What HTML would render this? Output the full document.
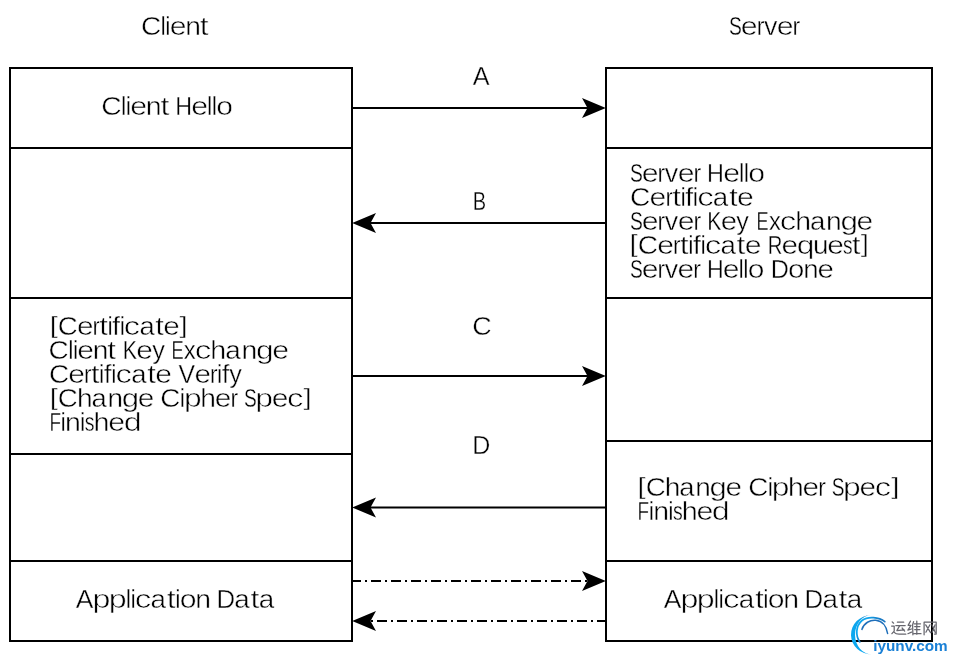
<!DOCTYPE html><html><head><meta charset="utf-8"><style>html,body{margin:0;padding:0;background:#fff;width:954px;height:662px;overflow:hidden}svg{display:block;will-change:transform}text{font-family:"Liberation Sans",sans-serif;font-size:25.3px;fill:#000;stroke:#fff;stroke-width:0.35px}</style></head><body>
<svg width="954" height="662" viewBox="0 0 954 662">

<g fill="none" stroke="#000" stroke-width="2" shape-rendering="crispEdges">
<rect x="10" y="68" width="342" height="573"/>
<rect x="606" y="68" width="326" height="573"/>
<line x1="10" y1="148" x2="352" y2="148"/>
<line x1="10" y1="298" x2="352" y2="298"/>
<line x1="10" y1="454" x2="352" y2="454"/>
<line x1="10" y1="561" x2="352" y2="561"/>
<line x1="606" y1="148" x2="932" y2="148"/>
<line x1="606" y1="298" x2="932" y2="298"/>
<line x1="606" y1="441" x2="932" y2="441"/>
<line x1="606" y1="561" x2="932" y2="561"/>
<line x1="353" y1="108" x2="590" y2="108"/>
<line x1="605" y1="223" x2="368" y2="223"/>
<line x1="353" y1="376" x2="590" y2="376"/>
</g>
<line x1="605" y1="507.5" x2="368" y2="507.5" stroke="#000" stroke-width="2"/>
<g fill="none" stroke="#000" stroke-width="2" stroke-dasharray="10 4 2 4" shape-rendering="crispEdges">
<line x1="351" y1="581" x2="600" y2="581"/>
<line x1="607" y1="621" x2="360" y2="621"/>
</g>
<polygon points="605.8,108 582,98 587.5,108 582,118" fill="#000"/>
<polygon points="352.2,223 376,213 370.5,223 376,233" fill="#000"/>
<polygon points="605.8,376 582,366 587.5,376 582,386" fill="#000"/>
<polygon points="352.2,507.5 376,497.5 370.5,507.5 376,517.5" fill="#000"/>
<polygon points="605.8,581 582,571 587.5,581 582,591" fill="#000"/>
<polygon points="352.2,621 376,611 370.5,621 376,631" fill="#000"/>
<g id="wm">
<defs><linearGradient id="gb" x1="0" y1="1" x2="1" y2="0"><stop offset="0" stop-color="#1a78c8"/><stop offset="0.2" stop-color="#0aa8f0"/><stop offset="0.7" stop-color="#10a4ec"/><stop offset="1" stop-color="#1c64b0"/></linearGradient></defs>
<path d="M871,615 A20.5,19.7 0 0 0 872,654.4 A16.5,19.7 0 0 1 871,615 Z" fill="url(#gb)"/>
<path d="M859.8,641.9 C855.5,636 855.5,626 862,620.5 C868,616 879,617 884.8,621.7" fill="none" stroke="url(#gb)" stroke-width="1.7" stroke-linecap="round"/>
<path d="M861.9,629.4 C864,623 870,619.8 875.8,620.3 C882,621 886.5,626 887.6,633.5" fill="none" stroke="#1f6fba" stroke-width="1.5" stroke-linecap="round"/>
<g fill="none" stroke="#66666e" stroke-width="1.25" stroke-linecap="round" stroke-linejoin="round">
<path d="M892.2,621.9 L893.6,623.2"/>
<path d="M891.6,626 L894.2,626 L894.2,631.1 L891.9,633.7"/>
<path d="M894.2,632.3 C895.5,633.8 897,634.2 899,634.2 L905.8,634.2"/>
<path d="M897.4,622.2 L903.7,622.2 M895.8,625.6 L905.2,625.6"/>
<path d="M899.5,625.9 L896.9,630.6 L904.2,629.8 M902.1,628 L904.7,631.1"/>
<path d="M910.5,621.1 L908.1,625.3 L911,625.3 L907.9,630.1 L911.5,629 M907.9,633.7 L911.5,632.1"/>
<path d="M913.6,621.7 L912.6,624.8 L912.9,634.8 M916.8,621.1 L916.8,634.2"/>
<path d="M914.2,623.8 L920.5,623.8 M914.7,626.6 L919.9,626.6 M914.7,629.6 L919.9,629.6 M913.6,633.7 L921,633.7"/>
<path d="M924.1,634.8 L924.1,622.2 L936.2,622.2 L936.2,634 L934.5,634"/>
<path d="M925.7,624.8 L930.6,632.7 M929.9,624.8 L925.9,632.2 M932,624.8 L935.4,632.7 M935.1,624.8 L932.2,632.2"/>
</g>
<text x="873.2" y="650.6" style="font-family:'Liberation Sans',sans-serif;font-size:15.3px;font-weight:bold;fill:#1a80d6;stroke:none">iyunv.com</text>
</g>

<text x="140.94" y="35" transform="matrix(1.1066,0,0,1,-15.029,0)" style="stroke-width:0.43px">C</text><text x="160.61" y="35" transform="matrix(0.9387,0,0,1,9.851,0)">l</text><text x="165.37" y="35" transform="matrix(0.9387,0,0,1,10.144,0)">i</text><text x="169.81" y="35" transform="matrix(1.1880,0,0,1,-31.930,0)" style="stroke-width:0.49px">e</text><text x="185.21" y="35" transform="matrix(1.1154,0,0,1,-21.379,0)" style="stroke-width:0.44px">n</text><text x="199.80" y="35" transform="matrix(1.2623,0,0,1,-52.404,0)" style="stroke-width:0.53px">t</text>
<text x="728.99" y="35" transform="matrix(0.7616,0,0,1,173.802,0)">S</text><text x="740.78" y="35" transform="matrix(1.1923,0,0,1,-142.455,0)" style="stroke-width:0.49px">e</text><text x="756.66" y="35" transform="matrix(0.9139,0,0,1,65.144,0)">r</text><text x="763.92" y="35" transform="matrix(1.0619,0,0,1,-47.302,0)" style="stroke-width:0.40px">v</text><text x="776.66" y="35" transform="matrix(1.1923,0,0,1,-149.357,0)" style="stroke-width:0.49px">e</text><text x="792.54" y="35" transform="matrix(0.9139,0,0,1,68.233,0)">r</text>
<text x="472.88" y="85" transform="matrix(0.9984,0,0,1,0.751,0)">A</text>
<text x="472.72" y="210" transform="matrix(0.7930,0,0,1,97.869,0)">B</text>
<text x="472.22" y="335" transform="matrix(1.0624,0,0,1,-29.461,0)" style="stroke-width:0.40px">C</text>
<text x="472.27" y="454" transform="matrix(0.9908,0,0,1,4.351,0)">D</text>
<text x="101.22" y="115" transform="matrix(1.1156,0,0,1,-11.697,0)" style="stroke-width:0.44px">C</text><text x="121.05" y="115" transform="matrix(0.9458,0,0,1,6.557,0)">l</text><text x="125.85" y="115" transform="matrix(0.9458,0,0,1,6.817,0)">i</text><text x="130.32" y="115" transform="matrix(1.1979,0,0,1,-25.783,0)" style="stroke-width:0.50px">e</text><text x="145.83" y="115" transform="matrix(1.1247,0,0,1,-18.183,0)" style="stroke-width:0.44px">n</text><text x="160.53" y="115" transform="matrix(1.2735,0,0,1,-43.909,0)" style="stroke-width:0.54px">t</text>
<text x="175.23" y="115" transform="matrix(0.9199,0,0,1,14.035,0)">H</text><text x="191.22" y="115" transform="matrix(1.1940,0,0,1,-37.096,0)" style="stroke-width:0.49px">e</text><text x="207.04" y="115" transform="matrix(0.9430,0,0,1,11.798,0)">l</text><text x="211.82" y="115" transform="matrix(0.9430,0,0,1,12.070,0)">l</text><text x="216.31" y="115" transform="matrix(1.1902,0,0,1,-41.133,0)" style="stroke-width:0.49px">o</text>
<text x="629.99" y="182" transform="matrix(0.7605,0,0,1,150.887,0)">S</text><text x="641.76" y="182" transform="matrix(1.1905,0,0,1,-122.226,0)" style="stroke-width:0.49px">e</text><text x="657.62" y="182" transform="matrix(0.9126,0,0,1,57.479,0)">r</text><text x="664.87" y="182" transform="matrix(1.0603,0,0,1,-40.085,0)" style="stroke-width:0.40px">v</text><text x="677.60" y="182" transform="matrix(1.1905,0,0,1,-129.051,0)" style="stroke-width:0.49px">e</text><text x="693.45" y="182" transform="matrix(0.9126,0,0,1,60.612,0)">r</text>
<text x="707.12" y="182" transform="matrix(0.9233,0,0,1,54.237,0)">H</text><text x="723.17" y="182" transform="matrix(1.1988,0,0,1,-143.745,0)" style="stroke-width:0.50px">e</text><text x="739.05" y="182" transform="matrix(0.9465,0,0,1,39.540,0)">l</text><text x="743.85" y="182" transform="matrix(0.9465,0,0,1,39.796,0)">l</text><text x="748.35" y="182" transform="matrix(1.1949,0,0,1,-145.862,0)" style="stroke-width:0.49px">o</text>
<text x="630.13" y="206" transform="matrix(1.1096,0,0,1,-69.087,0)" style="stroke-width:0.43px">C</text><text x="649.55" y="206" transform="matrix(1.1913,0,0,1,-124.281,0)" style="stroke-width:0.49px">e</text><text x="665.42" y="206" transform="matrix(0.9132,0,0,1,57.746,0)">r</text><text x="672.25" y="206" transform="matrix(1.2661,0,0,1,-178.865,0)" style="stroke-width:0.53px">t</text><text x="680.60" y="206" transform="matrix(0.9411,0,0,1,40.104,0)">i</text><text x="685.36" y="206" transform="matrix(1.1204,0,0,1,-82.545,0)" style="stroke-width:0.43px">f</text><text x="692.85" y="206" transform="matrix(0.9411,0,0,1,40.826,0)">i</text><text x="697.10" y="206" transform="matrix(1.3048,0,0,1,-212.445,0)" style="stroke-width:0.57px">c</text><text x="712.88" y="206" transform="matrix(1.0952,0,0,1,-67.895,0)" style="stroke-width:0.42px">a</text><text x="729.03" y="206" transform="matrix(1.2661,0,0,1,-193.973,0)" style="stroke-width:0.53px">t</text><text x="737.07" y="206" transform="matrix(1.1913,0,0,1,-141.027,0)" style="stroke-width:0.49px">e</text>
<text x="629.99" y="230" transform="matrix(0.7605,0,0,1,150.887,0)">S</text><text x="641.76" y="230" transform="matrix(1.1905,0,0,1,-122.226,0)" style="stroke-width:0.49px">e</text><text x="657.62" y="230" transform="matrix(0.9126,0,0,1,57.479,0)">r</text><text x="664.87" y="230" transform="matrix(1.0603,0,0,1,-40.085,0)" style="stroke-width:0.40px">v</text><text x="677.60" y="230" transform="matrix(1.1905,0,0,1,-129.051,0)" style="stroke-width:0.49px">e</text><text x="693.45" y="230" transform="matrix(0.9126,0,0,1,60.612,0)">r</text>
<text x="707.31" y="230" transform="matrix(0.8389,0,0,1,113.981,0)">K</text><text x="720.68" y="230" transform="matrix(1.1653,0,0,1,-119.106,0)" style="stroke-width:0.47px">e</text><text x="736.37" y="230" transform="matrix(0.9921,0,0,1,5.801,0)">y</text>
<text x="756.58" y="230" transform="matrix(0.7182,0,0,1,213.228,0)">E</text><text x="768.89" y="230" transform="matrix(0.9385,0,0,1,47.295,0)">x</text><text x="779.76" y="230" transform="matrix(1.3003,0,0,1,-234.176,0)" style="stroke-width:0.57px">c</text><text x="795.17" y="230" transform="matrix(1.1236,0,0,1,-98.247,0)" style="stroke-width:0.44px">h</text><text x="809.98" y="230" transform="matrix(1.0916,0,0,1,-74.207,0)" style="stroke-width:0.42px">a</text><text x="825.99" y="230" transform="matrix(1.1148,0,0,1,-94.813,0)" style="stroke-width:0.43px">n</text><text x="840.45" y="230" transform="matrix(1.2436,0,0,1,-204.773,0)" style="stroke-width:0.53px">g</text><text x="856.52" y="230" transform="matrix(1.1873,0,0,1,-160.462,0)" style="stroke-width:0.49px">e</text>
<text x="629.61" y="254" transform="matrix(1.1756,0,0,0.9476,-110.546,11.572)" style="stroke-width:0.47px">[</text><text x="637.72" y="254" transform="matrix(1.1098,0,0,1,-69.998,0)" style="stroke-width:0.43px">C</text><text x="657.14" y="254" transform="matrix(1.1915,0,0,1,-125.823,0)" style="stroke-width:0.49px">e</text><text x="673.01" y="254" transform="matrix(0.9133,0,0,1,58.340,0)">r</text><text x="679.84" y="254" transform="matrix(1.2662,0,0,1,-180.991,0)" style="stroke-width:0.53px">t</text><text x="688.20" y="254" transform="matrix(0.9412,0,0,1,40.483,0)">i</text><text x="692.96" y="254" transform="matrix(1.1206,0,0,1,-83.553,0)" style="stroke-width:0.43px">f</text><text x="700.45" y="254" transform="matrix(0.9412,0,0,1,41.204,0)">i</text><text x="704.69" y="254" transform="matrix(1.3049,0,0,1,-214.866,0)" style="stroke-width:0.57px">c</text><text x="720.48" y="254" transform="matrix(1.0954,0,0,1,-68.708,0)" style="stroke-width:0.42px">a</text><text x="736.63" y="254" transform="matrix(1.2662,0,0,1,-196.109,0)" style="stroke-width:0.53px">t</text><text x="744.67" y="254" transform="matrix(1.1915,0,0,1,-142.582,0)" style="stroke-width:0.49px">e</text>
<text x="767.79" y="254" transform="matrix(0.8051,0,0,1,149.628,0)">R</text><text x="781.56" y="254" transform="matrix(1.1778,0,0,1,-138.996,0)" style="stroke-width:0.48px">e</text><text x="796.77" y="254" transform="matrix(1.2534,0,0,1,-201.900,0)" style="stroke-width:0.54px">q</text><text x="812.97" y="254" transform="matrix(1.1009,0,0,1,-82.017,0)" style="stroke-width:0.42px">u</text><text x="827.30" y="254" transform="matrix(1.1778,0,0,1,-147.131,0)" style="stroke-width:0.48px">e</text><text x="842.95" y="254" transform="matrix(0.7571,0,0,1,204.739,0)">s</text><text x="851.81" y="254" transform="matrix(1.2506,0,0,1,-213.506,0)" style="stroke-width:0.52px">t</text><text x="860.80" y="254" transform="matrix(1.1607,0,0,0.9476,-138.318,11.572)" style="stroke-width:0.46px">]</text>
<text x="630.00" y="278" transform="matrix(0.7583,0,0,1,152.265,0)">S</text><text x="641.73" y="278" transform="matrix(1.1868,0,0,1,-119.844,0)" style="stroke-width:0.49px">e</text><text x="657.54" y="278" transform="matrix(0.9100,0,0,1,59.197,0)">r</text><text x="664.77" y="278" transform="matrix(1.0570,0,0,1,-37.913,0)" style="stroke-width:0.39px">v</text><text x="677.47" y="278" transform="matrix(1.1868,0,0,1,-126.517,0)" style="stroke-width:0.49px">e</text><text x="693.27" y="278" transform="matrix(0.9100,0,0,1,62.414,0)">r</text>
<text x="706.94" y="278" transform="matrix(0.9148,0,0,1,60.223,0)">H</text><text x="722.84" y="278" transform="matrix(1.1868,0,0,1,-135.061,0)" style="stroke-width:0.49px">e</text><text x="738.58" y="278" transform="matrix(0.9378,0,0,1,45.940,0)">l</text><text x="743.33" y="278" transform="matrix(0.9378,0,0,1,46.235,0)">l</text><text x="747.80" y="278" transform="matrix(1.1830,0,0,1,-136.871,0)" style="stroke-width:0.49px">o</text>
<text x="770.76" y="278" transform="matrix(0.9939,0,0,1,4.715,0)">D</text><text x="788.05" y="278" transform="matrix(1.1596,0,0,1,-125.803,0)" style="stroke-width:0.47px">o</text><text x="803.24" y="278" transform="matrix(1.0922,0,0,1,-74.061,0)" style="stroke-width:0.42px">n</text><text x="817.51" y="278" transform="matrix(1.1634,0,0,1,-133.549,0)" style="stroke-width:0.47px">e</text>
<text x="49.85" y="335" transform="matrix(1.1551,0,0,0.9476,-7.731,15.817)" style="stroke-width:0.45px">[</text><text x="57.85" y="335" transform="matrix(1.0927,0,0,1,-5.362,0)" style="stroke-width:0.42px">C</text><text x="76.98" y="335" transform="matrix(1.1727,0,0,1,-13.295,0)" style="stroke-width:0.48px">e</text><text x="92.61" y="335" transform="matrix(0.9000,0,0,1,9.261,0)">r</text><text x="99.35" y="335" transform="matrix(1.2448,0,0,1,-24.318,0)" style="stroke-width:0.52px">t</text><text x="107.58" y="335" transform="matrix(0.9275,0,0,1,7.804,0)">i</text><text x="112.28" y="335" transform="matrix(1.1020,0,0,1,-11.450,0)" style="stroke-width:0.42px">f</text><text x="119.65" y="335" transform="matrix(0.9275,0,0,1,8.679,0)">i</text><text x="123.85" y="335" transform="matrix(1.2840,0,0,1,-35.177,0)" style="stroke-width:0.56px">c</text><text x="139.40" y="335" transform="matrix(1.0783,0,0,1,-10.917,0)" style="stroke-width:0.41px">a</text><text x="155.31" y="335" transform="matrix(1.2448,0,0,1,-38.015,0)" style="stroke-width:0.52px">t</text><text x="163.24" y="335" transform="matrix(1.1727,0,0,1,-28.190,0)" style="stroke-width:0.48px">e</text><text x="179.53" y="335" transform="matrix(1.1551,0,0,0.9476,-27.838,15.817)" style="stroke-width:0.45px">]</text>
<text x="48.54" y="359" transform="matrix(1.1048,0,0,1,-5.090,0)" style="stroke-width:0.43px">C</text><text x="68.18" y="359" transform="matrix(0.9372,0,0,1,4.280,0)">l</text><text x="72.94" y="359" transform="matrix(0.9372,0,0,1,4.578,0)">i</text><text x="77.37" y="359" transform="matrix(1.1861,0,0,1,-14.396,0)" style="stroke-width:0.49px">e</text><text x="92.75" y="359" transform="matrix(1.1136,0,0,1,-10.535,0)" style="stroke-width:0.43px">n</text><text x="107.31" y="359" transform="matrix(1.2600,0,0,1,-27.905,0)" style="stroke-width:0.53px">t</text>
<text x="122.79" y="359" transform="matrix(0.8473,0,0,1,18.745,0)">K</text><text x="136.29" y="359" transform="matrix(1.1780,0,0,1,-24.264,0)" style="stroke-width:0.48px">e</text><text x="152.15" y="359" transform="matrix(1.0023,0,0,1,-0.352,0)">y</text>
<text x="171.47" y="359" transform="matrix(0.7239,0,0,1,47.348,0)">E</text><text x="183.87" y="359" transform="matrix(0.9459,0,0,1,9.941,0)">x</text><text x="194.82" y="359" transform="matrix(1.3117,0,0,1,-60.719,0)" style="stroke-width:0.58px">c</text><text x="210.36" y="359" transform="matrix(1.1333,0,0,1,-28.032,0)" style="stroke-width:0.45px">h</text><text x="225.29" y="359" transform="matrix(1.1009,0,0,1,-22.728,0)" style="stroke-width:0.43px">a</text><text x="241.42" y="359" transform="matrix(1.1244,0,0,1,-30.033,0)" style="stroke-width:0.44px">n</text><text x="255.99" y="359" transform="matrix(1.2544,0,0,1,-65.129,0)" style="stroke-width:0.54px">g</text><text x="272.19" y="359" transform="matrix(1.1975,0,0,1,-53.771,0)" style="stroke-width:0.50px">e</text>
<text x="48.95" y="383" transform="matrix(1.1028,0,0,1,-5.033,0)" style="stroke-width:0.43px">C</text><text x="68.25" y="383" transform="matrix(1.1838,0,0,1,-12.547,0)" style="stroke-width:0.49px">e</text><text x="84.02" y="383" transform="matrix(0.9079,0,0,1,7.738,0)">r</text><text x="90.82" y="383" transform="matrix(1.2575,0,0,1,-23.385,0)" style="stroke-width:0.53px">t</text><text x="99.12" y="383" transform="matrix(0.9356,0,0,1,6.383,0)">i</text><text x="103.85" y="383" transform="matrix(1.1130,0,0,1,-11.737,0)" style="stroke-width:0.43px">f</text><text x="111.30" y="383" transform="matrix(0.9356,0,0,1,7.167,0)">i</text><text x="115.52" y="383" transform="matrix(1.2964,0,0,1,-34.244,0)" style="stroke-width:0.57px">c</text><text x="131.21" y="383" transform="matrix(1.0884,0,0,1,-11.604,0)" style="stroke-width:0.42px">a</text><text x="147.27" y="383" transform="matrix(1.2575,0,0,1,-37.921,0)" style="stroke-width:0.53px">t</text><text x="155.26" y="383" transform="matrix(1.1838,0,0,1,-28.543,0)" style="stroke-width:0.49px">e</text>
<text x="178.52" y="383" transform="matrix(0.9804,0,0,1,3.501,0)">V</text><text x="194.47" y="383" transform="matrix(1.1701,0,0,1,-33.084,0)" style="stroke-width:0.48px">e</text><text x="210.06" y="383" transform="matrix(0.8982,0,0,1,21.387,0)">r</text><text x="217.05" y="383" transform="matrix(0.9256,0,0,1,16.152,0)">i</text><text x="221.74" y="383" transform="matrix(1.0994,0,0,1,-22.051,0)" style="stroke-width:0.42px">f</text><text x="229.32" y="383" transform="matrix(0.9959,0,0,1,0.929,0)">y</text>
<text x="49.85" y="407" transform="matrix(1.1581,0,0,0.9476,-7.883,19.590)" style="stroke-width:0.46px">[</text><text x="57.86" y="407" transform="matrix(1.0953,0,0,1,-5.511,0)" style="stroke-width:0.42px">C</text><text x="76.89" y="407" transform="matrix(1.1123,0,0,1,-8.635,0)" style="stroke-width:0.43px">h</text><text x="91.56" y="407" transform="matrix(1.0809,0,0,1,-7.405,0)" style="stroke-width:0.41px">a</text><text x="107.42" y="407" transform="matrix(1.1036,0,0,1,-11.134,0)" style="stroke-width:0.43px">n</text><text x="121.74" y="407" transform="matrix(1.2312,0,0,1,-28.143,0)" style="stroke-width:0.52px">g</text><text x="137.66" y="407" transform="matrix(1.1755,0,0,1,-24.162,0)" style="stroke-width:0.48px">e</text>
<text x="160.36" y="407" transform="matrix(1.0971,0,0,1,-15.564,0)" style="stroke-width:0.42px">C</text><text x="179.87" y="407" transform="matrix(0.9310,0,0,1,12.416,0)">i</text><text x="183.94" y="407" transform="matrix(1.2546,0,0,1,-46.829,0)" style="stroke-width:0.54px">p</text><text x="200.21" y="407" transform="matrix(1.1142,0,0,1,-22.864,0)" style="stroke-width:0.43px">h</text><text x="214.74" y="407" transform="matrix(1.1775,0,0,1,-38.116,0)" style="stroke-width:0.48px">e</text><text x="230.43" y="407" transform="matrix(0.9034,0,0,1,22.256,0)">r</text>
<text x="244.00" y="407" transform="matrix(0.7559,0,0,1,59.557,0)">S</text><text x="255.36" y="407" transform="matrix(1.2602,0,0,1,-66.437,0)" style="stroke-width:0.54px">p</text><text x="271.84" y="407" transform="matrix(1.1827,0,0,1,-49.665,0)" style="stroke-width:0.49px">e</text><text x="287.03" y="407" transform="matrix(1.2952,0,0,1,-84.718,0)" style="stroke-width:0.57px">c</text><text x="303.58" y="407" transform="matrix(1.1660,0,0,0.9476,-50.389,19.590)" style="stroke-width:0.46px">]</text>
<text x="49.42" y="431" transform="matrix(0.7470,0,0,1,12.502,0)">F</text><text x="60.63" y="431" transform="matrix(0.9454,0,0,1,3.313,0)">i</text><text x="65.05" y="431" transform="matrix(1.1241,0,0,1,-8.072,0)" style="stroke-width:0.44px">n</text><text x="80.02" y="431" transform="matrix(0.9454,0,0,1,4.372,0)">i</text><text x="84.82" y="431" transform="matrix(0.7686,0,0,1,19.627,0)">s</text><text x="93.62" y="431" transform="matrix(1.1329,0,0,1,-12.445,0)" style="stroke-width:0.45px">h</text><text x="108.38" y="431" transform="matrix(1.1972,0,0,1,-21.373,0)" style="stroke-width:0.50px">e</text><text x="123.80" y="431" transform="matrix(1.2830,0,0,1,-35.037,0)" style="stroke-width:0.56px">d</text>
<text x="637.65" y="496" transform="matrix(1.1581,0,0,0.9476,-100.840,24.253)" style="stroke-width:0.46px">[</text><text x="645.66" y="496" transform="matrix(1.0953,0,0,1,-61.502,0)" style="stroke-width:0.42px">C</text><text x="664.69" y="496" transform="matrix(1.1123,0,0,1,-74.654,0)" style="stroke-width:0.43px">h</text><text x="679.36" y="496" transform="matrix(1.0809,0,0,1,-54.943,0)" style="stroke-width:0.41px">a</text><text x="695.22" y="496" transform="matrix(1.1036,0,0,1,-72.059,0)" style="stroke-width:0.43px">n</text><text x="709.54" y="496" transform="matrix(1.2312,0,0,1,-164.026,0)" style="stroke-width:0.52px">g</text><text x="725.46" y="496" transform="matrix(1.1755,0,0,1,-127.330,0)" style="stroke-width:0.48px">e</text>
<text x="748.16" y="496" transform="matrix(1.0971,0,0,1,-72.616,0)" style="stroke-width:0.42px">C</text><text x="767.67" y="496" transform="matrix(0.9310,0,0,1,52.990,0)">i</text><text x="771.74" y="496" transform="matrix(1.2546,0,0,1,-196.474,0)" style="stroke-width:0.54px">p</text><text x="788.01" y="496" transform="matrix(1.1142,0,0,1,-89.991,0)" style="stroke-width:0.43px">h</text><text x="802.54" y="496" transform="matrix(1.1775,0,0,1,-142.450,0)" style="stroke-width:0.48px">e</text><text x="818.23" y="496" transform="matrix(0.9034,0,0,1,79.028,0)">r</text>
<text x="831.80" y="496" transform="matrix(0.7536,0,0,1,204.984,0)">S</text><text x="843.13" y="496" transform="matrix(1.2559,0,0,1,-215.756,0)" style="stroke-width:0.54px">p</text><text x="859.56" y="496" transform="matrix(1.1787,0,0,1,-153.623,0)" style="stroke-width:0.48px">e</text><text x="874.70" y="496" transform="matrix(1.2907,0,0,1,-254.310,0)" style="stroke-width:0.56px">c</text><text x="891.20" y="496" transform="matrix(1.1616,0,0,0.9476,-144.056,24.253)" style="stroke-width:0.46px">]</text>
<text x="637.52" y="520" transform="matrix(0.7470,0,0,1,161.284,0)">F</text><text x="648.73" y="520" transform="matrix(0.9454,0,0,1,35.444,0)">i</text><text x="653.15" y="520" transform="matrix(1.1241,0,0,1,-81.046,0)" style="stroke-width:0.44px">n</text><text x="668.12" y="520" transform="matrix(0.9454,0,0,1,36.503,0)">i</text><text x="672.92" y="520" transform="matrix(0.7686,0,0,1,155.707,0)">s</text><text x="681.72" y="520" transform="matrix(1.1329,0,0,1,-90.625,0)" style="stroke-width:0.45px">h</text><text x="696.48" y="520" transform="matrix(1.1972,0,0,1,-137.356,0)" style="stroke-width:0.50px">e</text><text x="711.90" y="520" transform="matrix(1.2830,0,0,1,-201.484,0)" style="stroke-width:0.56px">d</text>
<text x="75.75" y="608" transform="matrix(1.0463,0,0,1,-3.508,0)" style="stroke-width:0.39px">A</text><text x="92.49" y="608" transform="matrix(1.2728,0,0,1,-25.236,0)" style="stroke-width:0.55px">p</text><text x="108.78" y="608" transform="matrix(1.2728,0,0,1,-29.680,0)" style="stroke-width:0.55px">p</text><text x="125.72" y="608" transform="matrix(0.9434,0,0,1,7.119,0)">l</text><text x="130.51" y="608" transform="matrix(0.9434,0,0,1,7.390,0)">i</text><text x="134.77" y="608" transform="matrix(1.3083,0,0,1,-41.544,0)" style="stroke-width:0.57px">c</text><text x="150.59" y="608" transform="matrix(1.0981,0,0,1,-14.774,0)" style="stroke-width:0.42px">a</text><text x="166.78" y="608" transform="matrix(1.2697,0,0,1,-44.976,0)" style="stroke-width:0.53px">t</text><text x="175.16" y="608" transform="matrix(0.9434,0,0,1,9.918,0)">i</text><text x="179.64" y="608" transform="matrix(1.1906,0,0,1,-34.247,0)" style="stroke-width:0.49px">o</text><text x="195.21" y="608" transform="matrix(1.1215,0,0,1,-23.721,0)" style="stroke-width:0.44px">n</text>
<text x="216.50" y="608" transform="matrix(1.0199,0,0,1,-4.316,0)" style="stroke-width:0.37px">D</text><text x="234.35" y="608" transform="matrix(1.0986,0,0,1,-23.111,0)" style="stroke-width:0.42px">a</text><text x="250.54" y="608" transform="matrix(1.2703,0,0,1,-67.729,0)" style="stroke-width:0.54px">t</text><text x="258.77" y="608" transform="matrix(1.0986,0,0,1,-25.519,0)" style="stroke-width:0.42px">a</text>
<text x="663.85" y="608" transform="matrix(1.0463,0,0,1,-30.745,0)" style="stroke-width:0.39px">A</text><text x="680.59" y="608" transform="matrix(1.2728,0,0,1,-185.695,0)" style="stroke-width:0.55px">p</text><text x="696.88" y="608" transform="matrix(1.2728,0,0,1,-190.139,0)" style="stroke-width:0.55px">p</text><text x="713.82" y="608" transform="matrix(0.9434,0,0,1,40.419,0)">l</text><text x="718.61" y="608" transform="matrix(0.9434,0,0,1,40.690,0)">i</text><text x="722.87" y="608" transform="matrix(1.3083,0,0,1,-222.833,0)" style="stroke-width:0.57px">c</text><text x="738.69" y="608" transform="matrix(1.0981,0,0,1,-72.469,0)" style="stroke-width:0.42px">a</text><text x="754.88" y="608" transform="matrix(1.2697,0,0,1,-203.576,0)" style="stroke-width:0.53px">t</text><text x="763.26" y="608" transform="matrix(0.9434,0,0,1,43.218,0)">i</text><text x="767.74" y="608" transform="matrix(1.1906,0,0,1,-146.365,0)" style="stroke-width:0.49px">o</text><text x="783.31" y="608" transform="matrix(1.1215,0,0,1,-95.186,0)" style="stroke-width:0.44px">n</text>
<text x="804.60" y="608" transform="matrix(1.0199,0,0,1,-16.041,0)" style="stroke-width:0.37px">D</text><text x="822.45" y="608" transform="matrix(1.0986,0,0,1,-81.107,0)" style="stroke-width:0.42px">a</text><text x="838.64" y="608" transform="matrix(1.2703,0,0,1,-226.707,0)" style="stroke-width:0.54px">t</text><text x="846.87" y="608" transform="matrix(1.0986,0,0,1,-83.516,0)" style="stroke-width:0.42px">a</text>
</svg></body></html>
